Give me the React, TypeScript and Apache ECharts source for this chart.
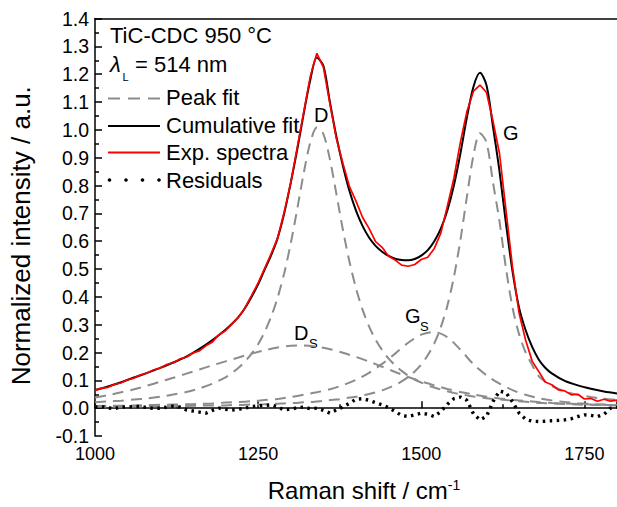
import React, { useEffect, useRef } from "react";
import * as echarts from "echarts";

const FONT = '"Liberation Sans", Arial, Helvetica, sans-serif';

// Raman shift grid (cm^-1) for the D and G fits and the cumulative fit
const fitShift = [
  1000, 1020, 1040, 1060, 1080, 1100, 1120, 1140, 1160, 1180, 1200,
  1210, 1220, 1230, 1240, 1250, 1260, 1270, 1280, 1290, 1300,
  1310, 1320, 1330, 1340, 1350, 1360, 1370, 1380, 1390, 1400,
  1410, 1420, 1430, 1440, 1450, 1460, 1470, 1480, 1490, 1500,
  1510, 1520, 1530, 1540, 1550, 1560, 1570, 1580, 1590, 1600,
  1610, 1620, 1630, 1640, 1650, 1660, 1670, 1680, 1690, 1700,
  1720, 1740, 1760, 1780, 1800,
];

const dPeak = [
  0.021, 0.024, 0.027, 0.031, 0.035, 0.041, 0.049, 0.058, 0.071, 0.088, 0.111,
  0.127, 0.145, 0.168, 0.196, 0.23, 0.274, 0.329, 0.398, 0.485, 0.592,
  0.716, 0.846, 0.955, 1.008, 0.985, 0.894, 0.769, 0.64, 0.526, 0.431,
  0.354, 0.294, 0.246, 0.209, 0.178, 0.154, 0.134, 0.117, 0.103, 0.092,
  0.082, 0.074, 0.067, 0.061, 0.055, 0.05, 0.046, 0.042, 0.039, 0.036,
  0.033, 0.031, 0.029, 0.027, 0.025, 0.023, 0.021, 0.019, 0.018, 0.017,
  0.015, 0.013, 0.012, 0.011, 0.01,
];

const gPeak = [
  0.005, 0.005, 0.005, 0.006, 0.006, 0.007, 0.007, 0.008, 0.009, 0.01, 0.01,
  0.011, 0.011, 0.012, 0.013, 0.013, 0.014, 0.015, 0.016, 0.017, 0.018,
  0.019, 0.021, 0.022, 0.024, 0.026, 0.029, 0.031, 0.034, 0.038, 0.041,
  0.046, 0.051, 0.057, 0.064, 0.073, 0.083, 0.096, 0.112, 0.132, 0.157,
  0.19, 0.233, 0.291, 0.368, 0.471, 0.604, 0.76, 0.908, 0.988, 0.955,
  0.81, 0.67, 0.5, 0.36, 0.265, 0.2, 0.155, 0.115, 0.095, 0.08,
  0.06, 0.048, 0.04, 0.034, 0.03,
];

const cumulativeFit = [
  0.065, 0.078, 0.093, 0.11, 0.127, 0.145, 0.164, 0.185, 0.213, 0.245, 0.282,
  0.303, 0.328, 0.36, 0.4, 0.445, 0.498, 0.55, 0.612, 0.7, 0.81,
  0.93, 1.06, 1.18, 1.26, 1.23, 1.1, 0.975, 0.87, 0.78, 0.71,
  0.655, 0.613, 0.583, 0.562, 0.547, 0.537, 0.532, 0.531, 0.536, 0.548,
  0.568, 0.6, 0.645, 0.71, 0.8, 0.915, 1.045, 1.155, 1.205, 1.16,
  1.01, 0.85, 0.66, 0.49, 0.36, 0.28, 0.22, 0.175, 0.145, 0.125,
  0.098, 0.082, 0.07, 0.06, 0.053,
];

// coarser grid for the broad D_S and G_S bands
const broadShift = [
  1000, 1020, 1040, 1060, 1080, 1100, 1120, 1140, 1160, 1180,
  1200, 1220, 1240, 1260, 1280, 1300, 1320, 1340, 1360, 1380,
  1400, 1420, 1440, 1460, 1480, 1500, 1520, 1540, 1560, 1580,
  1600, 1620, 1640, 1660, 1680, 1700, 1720, 1740, 1760, 1780, 1800,
];

const dsPeak = [
  0.038, 0.047, 0.057, 0.068, 0.081, 0.095, 0.109, 0.124, 0.139, 0.154,
  0.168, 0.182, 0.196, 0.208, 0.218, 0.224, 0.225, 0.221, 0.212, 0.199,
  0.184, 0.167, 0.149, 0.13, 0.112, 0.096, 0.082, 0.069, 0.058, 0.049,
  0.041, 0.035, 0.03, 0.026, 0.022, 0.019, 0.017, 0.015, 0.013, 0.012, 0.011,
];

const gsPeak = [
  0.008, 0.009, 0.009, 0.01, 0.011, 0.012, 0.013, 0.014, 0.015, 0.017,
  0.02, 0.022, 0.025, 0.029, 0.033, 0.04, 0.048, 0.057, 0.068, 0.083,
  0.102, 0.127, 0.159, 0.196, 0.235, 0.264, 0.274, 0.255, 0.21, 0.158,
  0.118, 0.088, 0.065, 0.048, 0.036, 0.028, 0.022, 0.018, 0.015, 0.013, 0.011,
];

// measured spectrum and fit residuals, 10 cm^-1 steps
const expShift = [
  1000, 1010, 1020, 1030, 1040, 1050, 1060, 1070, 1080, 1090,
  1100, 1110, 1120, 1130, 1140, 1150, 1160, 1170, 1180, 1190,
  1200, 1210, 1220, 1230, 1240, 1250, 1260, 1270, 1280, 1290,
  1300, 1310, 1320, 1330, 1340, 1350, 1360, 1370, 1380, 1390,
  1400, 1410, 1420, 1430, 1440, 1450, 1460, 1470, 1480, 1490,
  1500, 1510, 1520, 1530, 1540, 1550, 1560, 1570, 1580, 1590,
  1600, 1610, 1620, 1630, 1640, 1650, 1660, 1670, 1680, 1690,
  1700, 1710, 1720, 1730, 1740, 1750, 1760, 1770, 1780, 1790, 1800,
];

const expSpectrum = [
  0.064, 0.072, 0.075, 0.086, 0.091, 0.102, 0.108, 0.12, 0.126, 0.138,
  0.144, 0.157, 0.163, 0.177, 0.183, 0.198, 0.206, 0.224, 0.238, 0.264,
  0.278, 0.303, 0.327, 0.361, 0.405, 0.45, 0.502, 0.555, 0.612, 0.705,
  0.809, 0.938, 1.065, 1.193, 1.275, 1.225, 1.094, 0.968, 0.879, 0.796,
  0.744, 0.686, 0.646, 0.598, 0.578, 0.546, 0.532, 0.514, 0.51, 0.516,
  0.534, 0.542, 0.574, 0.629, 0.726, 0.826, 0.956, 1.066, 1.139, 1.161,
  1.134, 1.031, 0.914, 0.708, 0.504, 0.341, 0.244, 0.169, 0.132, 0.094,
  0.084, 0.066, 0.062, 0.048, 0.05, 0.033, 0.035, 0.025, 0.032, 0.025, 0.029,
];

const residuals = [
  0.004, 0.006, 0.001, -0.002, 0.005, 0.004, 0.006, 0.006, 0.002, -0.001,
  0.0, 0.004, 0.007, 0.004, -0.006, -0.01, -0.014, -0.018, -0.008, 0.0,
  -0.004, -0.007, -0.004, 0.0, 0.006, 0.008, 0.01, 0.012, 0.004, -0.006,
  -0.004, 0.002, 0.004, -0.002, 0.0, -0.008, -0.018, -0.006, 0.004, 0.018,
  0.032, 0.034, 0.028, 0.02, 0.012, 0.002, -0.012, -0.026, -0.03, -0.024,
  -0.018, -0.022, -0.03, -0.012, 0.014, 0.034, 0.04, 0.028, -0.02, -0.042,
  -0.03, 0.024, 0.062, 0.055, 0.022, -0.018, -0.04, -0.047, -0.048, -0.047,
  -0.045, -0.044, -0.042, -0.038, -0.03, -0.024, -0.026, -0.03, -0.022, 0.0, 0.004,
];

// axis ranges
const shiftRange = [1000, 1800];
const shiftStep = 250;
const intensityRange = [-0.1, 1.4];
const intensityStep = 0.1;

const legendItems = ["Peak fit", "Cumulative fit", "Exp. spectra", "Residuals"];

const pairs = (xs: number[], ys: number[]) => xs.map((x, i) => [x, ys[i]]);

const FIT_GRAY = "#8c8c8c";

function buildOption(): echarts.EChartsOption {
  const dashed = (name: string, xs: number[], ys: number[]) => ({
    name,
    type: "line" as const,
    data: pairs(xs, ys),
    showSymbol: false,
    smooth: 0.3,
    silent: true,
    z: 2,
    lineStyle: { color: FIT_GRAY, width: 2, type: [11, 7] as number[] },
  });

  const txt = (
    text: string,
    x: number,
    y: number,
    size: number,
    extra: Record<string, unknown> = {}
  ) => ({
    type: "text" as const,
    x,
    y,
    silent: true,
    style: {
      text,
      fill: "#000",
      fontSize: size,
      fontFamily: FONT,
      align: "left",
      verticalAlign: "middle",
      ...extra,
    },
  });

  const rowY = [97.5, 125, 152.5, 180];

  return {
    animation: false,
    backgroundColor: "#fff",
    grid: { left: 94, top: 18.5, width: 528.5, height: 426, containLabel: false },
    xAxis: [
      {
        type: "value",
        min: shiftRange[0],
        max: shiftRange[1],
        interval: shiftStep,
        position: "bottom",
        name: "{a|Raman shift / cm}{b|-1}",
        nameLocation: "middle",
        nameGap: 42,
        nameTextStyle: {
          padding: [0, 0, 0, 16],
          rich: {
            a: { fontSize: 24, fontFamily: FONT, color: "#000" },
            b: { fontSize: 14, fontFamily: FONT, color: "#000", verticalAlign: "top" },
          },
        },
        axisLine: { show: true, lineStyle: { color: "#000", width: 1.5 } },
        axisTick: { show: true, inside: true, length: 7, lineStyle: { color: "#000", width: 1.5 } },
        minorTick: { show: true, splitNumber: 2, length: 4, lineStyle: { color: "#000", width: 1.5 } },
        axisLabel: {
          color: "#000",
          fontSize: 18,
          fontFamily: FONT,
          margin: 9,
          showMaxLabel: false,
          formatter: (v: number) => String(v),
        },
        splitLine: { show: false },
        minorSplitLine: { show: false },
      },
      {
        type: "value",
        min: shiftRange[0],
        max: shiftRange[1],
        position: "top",
        axisLine: { show: true, lineStyle: { color: "#000", width: 1.5 } },
        axisTick: { show: false },
        axisLabel: { show: false },
        splitLine: { show: false },
      },
    ],
    yAxis: {
      type: "value",
      min: intensityRange[0],
      max: intensityRange[1],
      interval: intensityStep,
      name: "Normalized intensity / a.u.",
      nameLocation: "middle",
      nameGap: 61,
      nameTextStyle: { fontSize: 26, fontFamily: FONT, color: "#000", padding: [0, 17, 0, 0] },
      axisLine: { show: true, lineStyle: { color: "#000", width: 1.5 } },
      axisTick: { show: true, inside: true, length: 7, lineStyle: { color: "#000", width: 1.5 } },
      minorTick: { show: true, splitNumber: 2, length: 4, lineStyle: { color: "#000", width: 1.5 } },
      axisLabel: {
        color: "#000",
        fontSize: 19.5,
        fontFamily: FONT,
        margin: 6,
        formatter: (v: number) => v.toFixed(1),
      },
      splitLine: { show: false },
      minorSplitLine: { show: false },
    },
    series: [
      dashed("D", fitShift, dPeak),
      dashed("G", fitShift, gPeak),
      dashed("D_S", broadShift, dsPeak),
      dashed("G_S", broadShift, gsPeak),
      {
        name: legendItems[1],
        type: "line",
        data: pairs(fitShift, cumulativeFit),
        showSymbol: false,
        smooth: 0.3,
        silent: true,
        z: 3,
        lineStyle: { color: "#000", width: 2 },
      },
      {
        name: legendItems[2],
        type: "line",
        data: pairs(expShift, expSpectrum),
        showSymbol: false,
        silent: true,
        z: 4,
        lineStyle: { color: "#ff0000", width: 1.7 },
      },
      {
        name: legendItems[3],
        type: "line",
        data: pairs(expShift, residuals),
        showSymbol: false,
        silent: true,
        z: 5,
        lineStyle: { color: "#000", width: 3.4, type: [2.5, 4.5] as number[] },
      },
    ],
    graphic: [
      // sample / excitation header
      txt("TiC-CDC 950 °C", 110, 35, 22),
      txt("λ", 110, 64, 22, { fontStyle: "italic" }),
      txt("L", 122.5, 77, 11),
      txt("= 514 nm", 135, 64, 22),
      // legend keys
      {
        type: "line",
        silent: true,
        shape: { x1: 108, y1: rowY[0] + 1, x2: 160, y2: rowY[0] + 1 },
        style: { stroke: FIT_GRAY, lineWidth: 2, lineDash: [12, 8] },
      },
      {
        type: "line",
        silent: true,
        shape: { x1: 108, y1: rowY[1] + 1, x2: 160, y2: rowY[1] + 1 },
        style: { stroke: "#000", lineWidth: 2 },
      },
      {
        type: "line",
        silent: true,
        shape: { x1: 108, y1: rowY[2], x2: 160, y2: rowY[2] },
        style: { stroke: "#ff0000", lineWidth: 2 },
      },
      ...[109.5, 126, 142.5, 159].map((cx) => ({
        type: "circle" as const,
        silent: true,
        shape: { cx, cy: rowY[3], r: 1.8 },
        style: { fill: "#000" },
      })),
      ...legendItems.map((t, i) => txt(t, 166, rowY[i], 22)),
      // band labels
      txt("D", 314, 115, 20),
      txt("G", 503, 133, 20),
      txt("D", 294, 332.5, 20),
      txt("S", 309, 343, 13),
      txt("G", 405, 315.5, 20),
      txt("S", 420, 326, 13),
    ],
  } as echarts.EChartsOption;
}

export default function App() {
  const ref = useRef<HTMLDivElement | null>(null);

  useEffect(() => {
    if (!ref.current) return;
    const chart = echarts.init(ref.current, undefined, { renderer: "svg" });
    chart.setOption(buildOption());
    return () => chart.dispose();
  }, []);

  return (
    <div
      ref={ref}
      style={{ position: "absolute", left: 0, top: 0, width: 617, height: 507, background: "#fff" }}
    />
  );
}
